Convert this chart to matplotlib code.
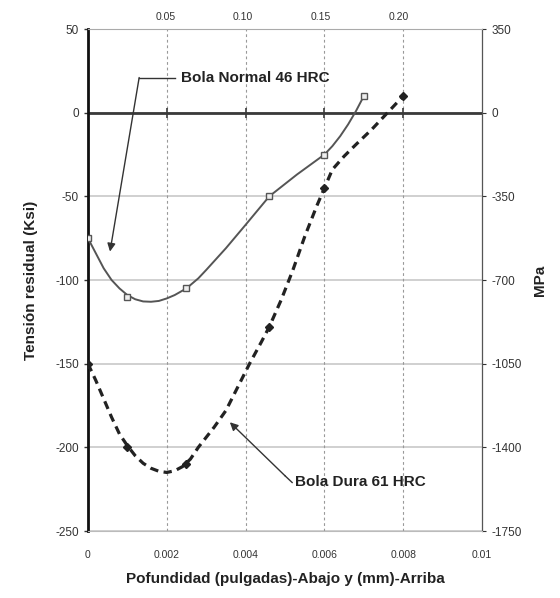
import matplotlib
matplotlib.use("Agg")
import matplotlib.pyplot as plt

plt.rcParams['font.family'] = ['Liberation Sans', 'DejaVu Sans']
plt.rcParams['axes.unicode_minus'] = False

# measured points (depth in inches, residual stress in ksi)
normal_x = [0.0, 0.001, 0.0025, 0.0046, 0.006, 0.007]
normal_y = [-75, -110, -105, -50, -25, 10]
dura_x = [0.0, 0.001, 0.0025, 0.0046, 0.006, 0.008]
dura_y = [-150, -200, -210, -128, -45, 10]

# smooth curves
normal_cx = [0.0, 0.0002, 0.0004, 0.0006, 0.0008, 0.001, 0.0012, 0.0014, 0.0016, 0.0018,
             0.002, 0.0022, 0.0025, 0.0028, 0.003, 0.0035, 0.004, 0.0046, 0.0053, 0.006,
             0.0062, 0.0064, 0.0066, 0.0068, 0.007]
normal_cy = [-75, -84, -93, -100, -105, -109, -111.5, -112.8, -113, -112.5,
             -111, -109, -105, -99, -94, -81, -67, -50, -37, -25,
             -20, -14, -7, 1, 10]
dura_cx = [0.0, 0.0002, 0.0004, 0.0006, 0.0008, 0.001, 0.0012, 0.0014, 0.0016, 0.0018,
           0.002, 0.0022, 0.0024, 0.0026, 0.0028, 0.003, 0.0032, 0.0035, 0.0038, 0.0041,
           0.0044, 0.0046, 0.0049, 0.0052, 0.0055, 0.0058, 0.006, 0.0062, 0.0065, 0.0068,
           0.0072, 0.0076, 0.008]
dura_cy = [-150, -160, -171, -182, -192, -199, -205, -209.5, -212.5, -214.3,
           -215, -214, -211.5, -207, -200, -194, -188, -178, -164, -150,
           -137, -128, -112, -94, -74, -56, -45, -34, -26, -19,
           -10, 0, 10]

x_ticks = [0, 0.002, 0.004, 0.006, 0.008, 0.01]
x_labels = ['0', '0.002', '0.004', '0.006', '0.008', '0.01']
y_ticks = [50, 0, -50, -100, -150, -200, -250]
mm_ticks = [0.05, 0.10, 0.15, 0.20]
mm_labels = ['0.05', '0.10', '0.15', '0.20']
mpa_ticks = [350, 0, -350, -700, -1050, -1400, -1750]

fig = plt.figure(figsize=(5.6, 5.98), dpi=100)
ax = fig.add_axes([0.157, 0.112, 0.704, 0.8395])
ax.set_xlim(0, 0.01)
ax.set_ylim(-250, 50)

for y in y_ticks:
    ax.axhline(y, color='#c4c4c4', lw=1.1, zorder=1)
for x in x_ticks[1:-1]:
    ax.axvline(x, color='#999999', lw=0.8, ls=(0, (2.5, 2.5)), zorder=1)
ax.axhline(0, color='#3a3a3a', lw=2.0, zorder=2)
ax.plot(x_ticks[1:-1], [0] * 4, ls='none', marker='|', ms=7, mew=1.2, color='#3a3a3a', zorder=2)

ax.plot(normal_cx, normal_cy, '-', color='#555555', lw=1.4, zorder=3,
        solid_joinstyle='round')
ax.plot(normal_x, normal_y, 's', ms=5, mfc='#eeeeee', mec='#555555', mew=1.0, zorder=4)
ax.plot(dura_cx, dura_cy, color='#222222', lw=2.3, ls=(0, (2.6, 1.7)), zorder=3,
        dash_joinstyle='round')
ax.plot(dura_x, dura_y, 'D', ms=4.5, color='#222222', zorder=4)

ax.set_xticks(x_ticks)
ax.set_xticklabels(x_labels)
ax.set_yticks(y_ticks)
ax.tick_params(axis='x', length=0, labelsize=7.5, pad=14, colors='#333333')
ax.tick_params(axis='y', length=3, labelsize=8.5, colors='#333333', width=1)
ax.spines['left'].set_linewidth(2.0)
ax.spines['left'].set_color('#111111')
ax.spines['bottom'].set_color('#bbbbbb')
ax.spines['top'].set_color('#aaaaaa')
ax.spines['right'].set_color('#555555')

top = ax.secondary_xaxis('top', functions=(lambda v: v * 25.4, lambda v: v / 25.4))
top.set_xticks(mm_ticks)
top.set_xticklabels(mm_labels)
top.tick_params(length=0, labelsize=7.5, pad=5, colors='#333333')
top.spines['top'].set_visible(False)

right = ax.secondary_yaxis('right', functions=(lambda v: v * 7, lambda v: v / 7))
right.set_yticks(mpa_ticks)
right.tick_params(length=3, labelsize=8.5, colors='#333333')
right.set_ylabel('MPa', fontsize=11, fontweight='bold', labelpad=8, color='#222222')

ax.set_ylabel('Tensión residual (Ksi)', fontsize=11, fontweight='bold', labelpad=12, color='#222222')
ax.set_xlabel('Pofundidad (pulgadas)-Abajo y (mm)-Arriba', fontsize=11, fontweight='bold',
              labelpad=8, color='#222222')

ax.text(0.00235, 21, 'Bola Normal 46 HRC', fontsize=11, fontweight='bold', va='center',
        color='#222222', zorder=5)
ax.plot([0.0022, 0.0013], [21, 21], color='#333333', lw=1.0, zorder=5)
ax.annotate('', xy=(0.00056, -83), xytext=(0.0013, 21),
            arrowprops=dict(arrowstyle='-|>', color='#333333', lw=1.0, mutation_scale=12,
                            shrinkA=0, shrinkB=0), zorder=5)

ax.text(0.00525, -221, 'Bola Dura 61 HRC', fontsize=11, fontweight='bold', va='center',
        color='#222222', zorder=5)
ax.plot([0.00518, 0.00500], [-221, -217], color='#333333', lw=1.0, zorder=5)
ax.annotate('', xy=(0.0036, -185), xytext=(0.0050, -217),
            arrowprops=dict(arrowstyle='-|>', color='#333333', lw=1.0, mutation_scale=12,
                            shrinkA=0, shrinkB=0), zorder=5)

fig.savefig('out.png', dpi=100, facecolor='white')
